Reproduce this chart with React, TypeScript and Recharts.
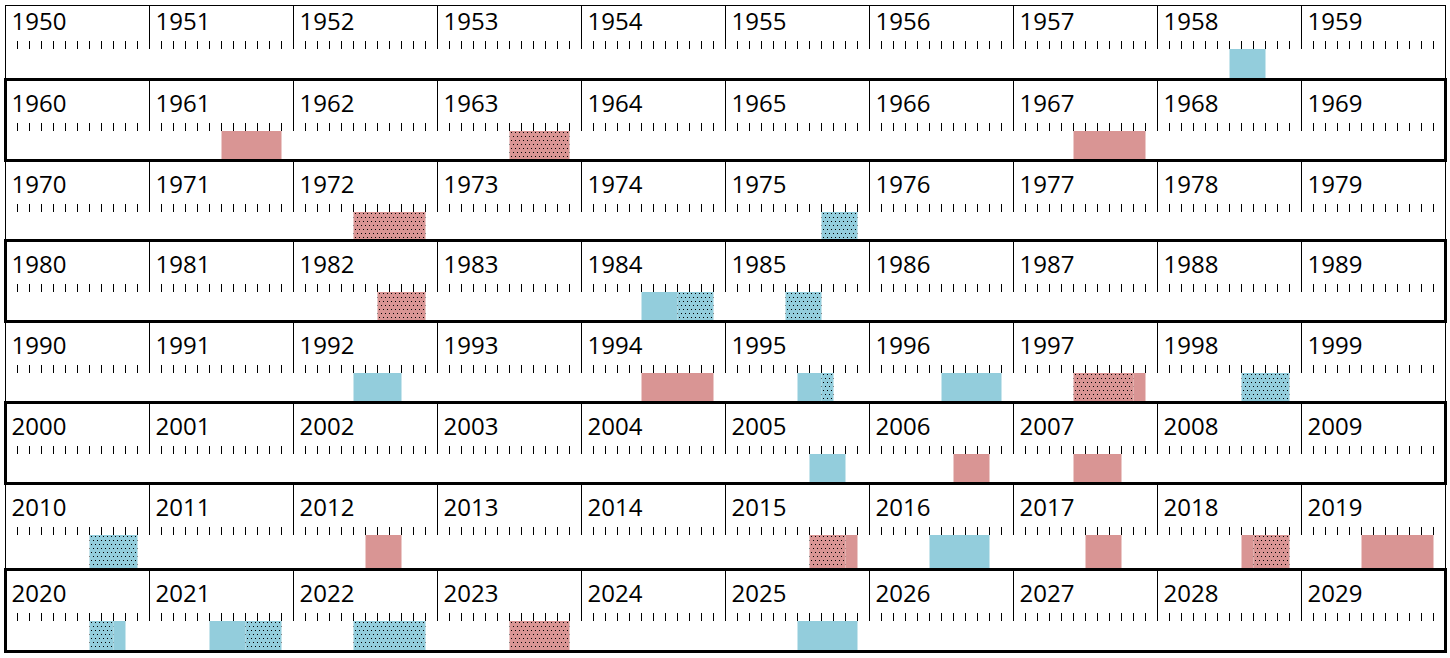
import React from "react";
import { BarChart, Bar, XAxis, YAxis } from "recharts";

// decades shown, one row each
const decades = [1950, 1960, 1970, 1980, 1990, 2000, 2010, 2020];

// events: [year, startMonth, endMonth] (month boundaries 0..12 within the year)
const blueSolid = [
  [1958, 6, 9], [1984, 5, 8], [1992, 5, 9], [1995, 6, 8], [1996, 6, 11],
  [2005, 7, 10], [2016, 5, 10], [2020, 9, 10], [2021, 5, 8], [2025, 6, 11],
];
const blueDotted = [
  [1975, 8, 11], [1984, 8, 11], [1985, 5, 8], [1995, 8, 9], [1998, 7, 11],
  [2010, 7, 11], [2020, 7, 9], [2021, 8, 11], [2022, 5, 11],
];
const redSolid = [
  [1961, 6, 11], [1967, 5, 11], [1994, 5, 11], [1997, 10, 11], [2006, 7, 10],
  [2007, 5, 9], [2012, 6, 9], [2015, 10, 11], [2017, 6, 9], [2018, 7, 8], [2019, 5, 11],
];
const redDotted = [
  [1963, 6, 11], [1972, 5, 11], [1982, 7, 11], [1997, 5, 10], [2015, 7, 10],
  [2018, 8, 11], [2023, 6, 11],
];

const BLUE = "#93CDDC";
const RED = "#D99594";

// row top edges (page px), last value is the bottom of the last row
const rowEdges = [-3, 79, 160, 240, 321, 402, 483, 569, 651];
const AXIS_H = 52;
const monthTicks = Array.from({ length: 120 }, (_, i) => i);

function MonthTick(props: any) {
  const { x, y, payload, decade } = props;
  const m = payload.value;
  if (m % 12 === 0) {
    return (
      <g>
        <line x1={x} x2={x} y1={y - AXIS_H} y2={y} stroke="#000" strokeWidth={1} />
        <text
          x={x + 6}
          y={y - 19}
          fontSize={24}
          fontFamily="'Open Sans', sans-serif"
          fill="#000"
          textAnchor="start"
        >
          {decade + m / 12}
        </text>
      </g>
    );
  }
  return <line x1={x} x2={x} y1={y - 8} y2={y} stroke="#000" strokeWidth={1} />;
}

type Seg = { s: number; e: number; fill: string };

function rowSegs(decade: number): Seg[] {
  const pick = (list: number[][], fill: string) =>
    list
      .filter(([yr]) => yr >= decade && yr < decade + 10)
      .map(([yr, s, e]) => ({ s: (yr - decade) * 12 + s, e: (yr - decade) * 12 + e, fill }));
  return [
    ...pick(blueSolid, BLUE),
    ...pick(blueDotted, "url(#dotsBlue)"),
    ...pick(redSolid, RED),
    ...pick(redDotted, "url(#dotsRed)"),
  ].sort((a, b) => a.s - b.s);
}

function DecadeRow({ decade, height }: { decade: number; height: number }) {
  const segs = rowSegs(decade);
  // gantt style: transparent gap + coloured span, stacked along the month axis
  const row: Record<string, number | string> = { row: String(decade) };
  let pos = 0;
  segs.forEach((g, i) => {
    row[`gap${i}`] = g.s - pos;
    row[`seg${i}`] = g.e - g.s;
    pos = g.e;
  });
  return (
    <BarChart
      width={1450}
      height={height}
      data={[row]}
      layout="vertical"
      barCategoryGap={0}
      margin={{ top: 0, right: 4.5, bottom: 0, left: 5.5 }}
    >
      <defs>
        <pattern id="dotsBlue" width={4} height={8} patternUnits="userSpaceOnUse">
          <rect x={0} y={0} width={4} height={8} fill={BLUE} />
          <rect x={1} y={1} width={1} height={1} fill="#000" />
          <rect x={3} y={5} width={1} height={1} fill="#000" />
        </pattern>
        <pattern id="dotsRed" width={4} height={8} patternUnits="userSpaceOnUse">
          <rect x={0} y={0} width={4} height={8} fill={RED} />
          <rect x={1} y={1} width={1} height={1} fill="#000" />
          <rect x={3} y={5} width={1} height={1} fill="#000" />
        </pattern>
      </defs>
      <XAxis
        type="number"
        orientation="top"
        domain={[0, 120]}
        ticks={monthTicks}
        interval={0}
        height={AXIS_H}
        axisLine={false}
        tickLine={false}
        tickSize={0}
        tickMargin={0}
        allowDataOverflow
        tick={(p: any) => <MonthTick {...p} decade={decade} />}
      />
      <YAxis type="category" dataKey="row" hide />
      {segs.map((g, i) => [
        <Bar key={`gap${i}`} dataKey={`gap${i}`} stackId="a" fill="transparent" isAnimationActive={false} />,
        <Bar key={`seg${i}`} dataKey={`seg${i}`} stackId="a" fill={g.fill} isAnimationActive={false} />,
      ])}
    </BarChart>
  );
}

export default function App() {
  return (
    <div style={{ position: "absolute", left: 0, top: 0, width: 1450, height: 658, background: "#fff", overflow: "hidden" }}>
      {decades.map((d, i) => {
        const top = rowEdges[i];
        const h = rowEdges[i + 1] - top;
        if (i === 0) {
          return (
            <div key={d} style={{ position: "absolute", left: 0, top: 5, width: 1450, height: h - 8, overflow: "hidden" }}>
              <div style={{ position: "absolute", left: 0, top: top - 5 }}>
                <DecadeRow decade={d} height={h} />
              </div>
            </div>
          );
        }
        return (
          <div key={d} style={{ position: "absolute", left: 0, top }}>
            <DecadeRow decade={d} height={h} />
          </div>
        );
      })}
      {decades.map((d, i) => {
        const top = rowEdges[i];
        const bottom = rowEdges[i + 1];
        if (i % 2 === 1) {
          return (
            <div
              key={`b${d}`}
              style={{
                position: "absolute",
                left: 4,
                top: top - 1,
                width: 1443,
                height: bottom - top + 3,
                border: "3px solid #000",
                boxSizing: "border-box",
              }}
            />
          );
        }
        const t = i === 0 ? 5 : top;
        return (
          <React.Fragment key={`b${d}`}>
            <div style={{ position: "absolute", left: 5, top: t, width: 1, height: bottom - t, background: "#000" }} />
            <div style={{ position: "absolute", left: 1445, top: t, width: 1, height: bottom - t, background: "#000" }} />
          </React.Fragment>
        );
      })}
      <div style={{ position: "absolute", left: 5, top: 5, width: 1441, height: 1, background: "#000" }} />
    </div>
  );
}
